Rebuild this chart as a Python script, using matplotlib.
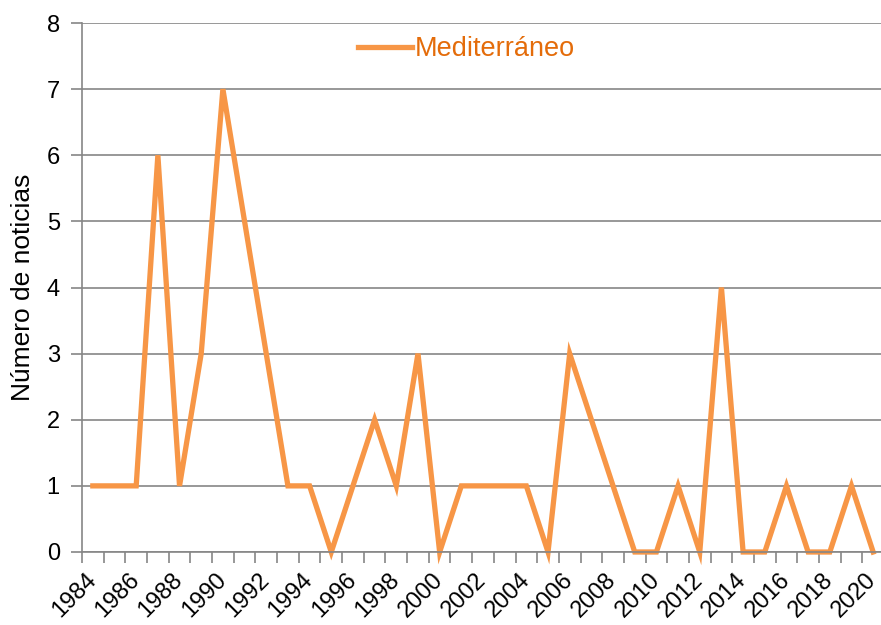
import numpy as np
import matplotlib
matplotlib.use("Agg")
import matplotlib.pyplot as plt

######################## DATA
years = list(range(1984, 2021))
noticias = [1, 1, 1, 6, 1, 3, 7, 5, 3, 1,
            1, 0, 1, 2, 1, 3, 0, 1, 1, 1,
            1, 0, 3, 2, 1, 0, 0, 1, 0, 4,
            0, 0, 1, 0, 0, 1, 0]
serie = "Mediterráneo"

naranja = "#F79646"
gris = "#868686"

plt.rcParams['font.family'] = ['Liberation Sans', 'DejaVu Sans']
fs = 17

fig = plt.figure(figsize=(8.81, 6.25), dpi=100)
ax = fig.add_axes([82/881, 1-552/625, 802/881, 529/625])

x = np.arange(len(years))
ax.plot(x, noticias, color=naranja, lw=3.8, solid_joinstyle='miter', label=serie, clip_on=False)

ax.set_xlim(-0.5, len(years)-0.5)
ax.set_ylim(0, 8)
ax.set_yticks(range(0, 9))
ax.yaxis.grid(True, color=gris, lw=1.2)
ax.set_axisbelow(True)

# ticks entre categorias, etiquetas cada 2 anos
ax.set_xticks(np.arange(-0.5, len(years), 1), minor=True)
ax.set_xticks(x[::2])
ax.set_xticklabels([str(y) for y in years[::2]], rotation=45, ha='right', va='center',
                   rotation_mode='anchor')
ax.tick_params(axis='x', which='major', length=0, labelsize=17, pad=18)
ax.tick_params(axis='x', which='minor', length=8, width=1.2, color=gris, direction='out')
ax.tick_params(axis='y', length=8, width=1.2, color=gris, labelsize=fs, pad=8)

for s in ['top', 'right']:
    ax.spines[s].set_visible(False)
for s in ['left', 'bottom']:
    ax.spines[s].set_color(gris)
    ax.spines[s].set_linewidth(1.2)

ax.set_ylabel("Número de noticias", fontsize=19, labelpad=8)

leg = ax.legend(loc='center left', bbox_to_anchor=(0.314, 0.95), frameon=False,
                fontsize=19.5, handlelength=2.0, handletextpad=0.1)
for t in leg.get_texts():
    t.set_color("#E46C0A")

fig.savefig("out.png", dpi=100)
